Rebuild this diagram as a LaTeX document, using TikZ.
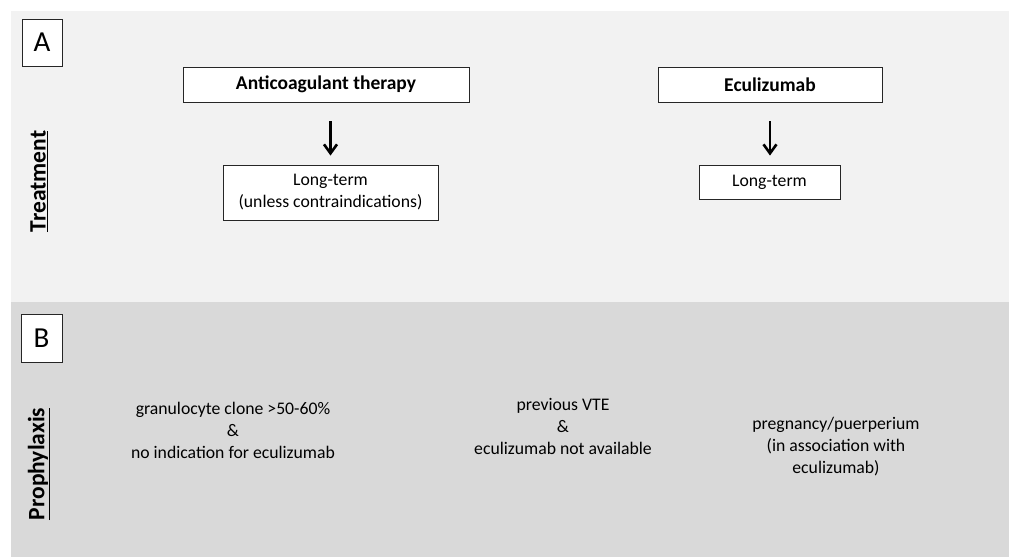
\documentclass[tikz,border=0pt]{standalone}
\usepackage{fontspec}
\setmainfont{Carlito}
\usepackage{tikz}
\usetikzlibrary{arrows.meta}
\definecolor{paneltop}{HTML}{F2F2F2}
\definecolor{panelbot}{HTML}{D9D9D9}
\tikzset{every node/.style={font=\fontsize{17.7}{22}\selectfont},
 box/.style={draw=black!85,line width=0.9pt,fill=white,inner sep=0pt,align=center},
 head/.style={box,font=\fontsize{19.5}{22}\selectfont\bfseries},
 letter/.style={box,font=\fontsize{29}{32}\selectfont},
 side/.style={rotate=90,font=\fontsize{23.5}{26}\selectfont\bfseries},
 plain/.style={align=center},
 arr/.style={-{Straight Barb[length=9pt,width=13pt,line width=2.6pt]},line width=2.8pt},
 }

\begin{document}
\begin{tikzpicture}[x=1pt,y=-1pt]
        \useasboundingbox (0,0) rectangle (1009,557);
        \fill[white] (0,0) rectangle (1009,557);
        \fill[paneltop] (11,11) rectangle (1009,302);
        \fill[panelbot] (11,302) rectangle (1009,557);
        % treatment
        \node[letter, minimum width=40, minimum height=47] (A) at (42,42.5) {A};
        \node[side] (treat) at (39,181.5) {\underline{Treatment}};
        \node[head, minimum width=286, minimum height=35] (anti) at (326,84.5) {Anticoagulant therapy};
        \node[box, minimum width=215, minimum height=55] (lt1) at (330.5,192.5) {Long-term\\(unless contraindications)};
        \node[head, minimum width=224, minimum height=35] (ecu) at (770,84.5) {Eculizumab};
        \node[box, minimum width=141, minimum height=34] (lt2) at (769.5,182) {Long-term};
        \draw[arr, shorten <=19pt, shorten >=9pt] (lt1.north |- anti.south) -- (lt1.north);
        \draw[arr, shorten <=19pt, shorten >=9pt] (ecu.south) -- (ecu.south |- lt2.north);
        % prophylaxis
        \node[letter, minimum width=41, minimum height=48] (B) at (41.5,338) {B};
        \node[side] (proph) at (39,464) {\underline{Prophylaxis}};
        \node[plain] (gran) at (233,430) {granulocyte clone >50-60\%\\\&\\no indication for eculizumab};
        \node[plain] (vte) at (563,426) {previous VTE\\\&\\eculizumab not available};
        \node[plain] (preg) at (836,447) {pregnancy/puerperium\\(in association with\\eculizumab)};
    \end{tikzpicture}
\end{document}
